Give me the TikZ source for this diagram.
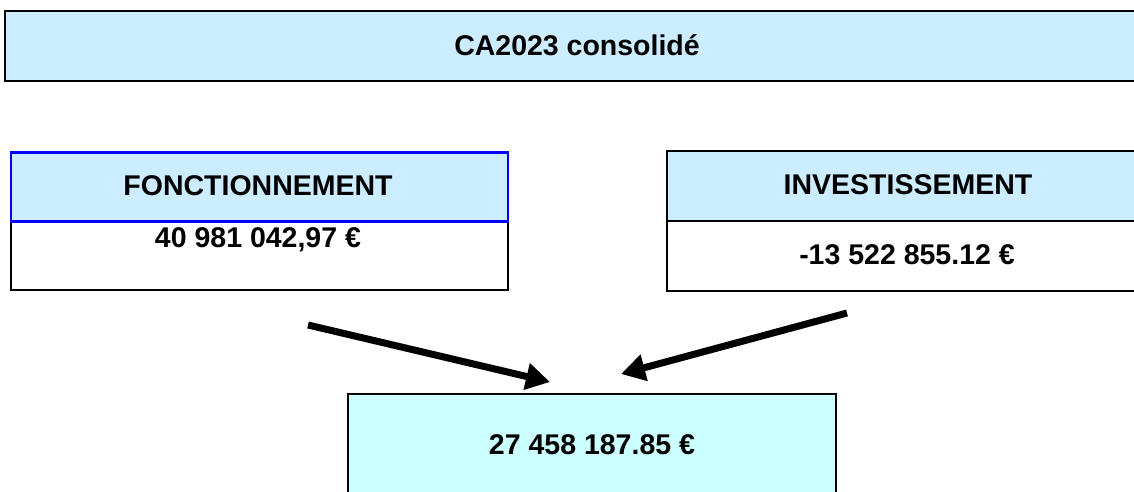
\documentclass[tikz,border=0pt]{standalone}
\usepackage{fontspec}
\setmainfont{Liberation Sans}
\usetikzlibrary{arrows.meta}
\definecolor{hdrblue}{RGB}{204,236,255}
\definecolor{resblue}{RGB}{204,255,255}
\definecolor{pureblue}{RGB}{0,0,255}
\begin{document}
\begin{tikzpicture}[x=1pt,y=-1pt,
  box/.style={draw=black,line width=2.4pt,rectangle,inner sep=0pt,anchor=north west},
  txt/.style={font=\fontsize{28.5}{34}\selectfont\bfseries,inner sep=0pt},
  bigarrow/.style={line width=7pt,-{Triangle[length=24pt,width=26pt]}}
]
\useasboundingbox (0,0) rectangle (1134,492);
\clip (0,0) rectangle (1134,492);
% title
\node[box,fill=hdrblue,minimum width=1146pt,minimum height=70pt] (title) at (4,10) {};
\node[txt] (titletxt) at (577,45) {CA2023 consolidé};
% fonctionnement
\node[box,fill=white,minimum width=497pt,minimum height=69pt] (fval) at (9.5,220) {};
\node[box,draw=pureblue,line width=2.8pt,fill=hdrblue,minimum width=497pt,minimum height=69pt] (fhdr) at (9.5,151) {};
\node[txt] (fhdrtxt) at (258,186) {FONCTIONNEMENT};
\node[txt] (fvaltxt) at (258,240) {40 981 042,97 €};
% investissement
\node[box,fill=hdrblue,minimum width=484pt,minimum height=70pt] (ihdr) at (666,150) {};
\node[box,fill=white,minimum width=484pt,minimum height=70pt] (ival) at (666,220) {};
\node[txt] (ihdrtxt) at (908,185) {INVESTISSEMENT};
\node[txt] (ivaltxt) at (907,255) {-13 522 855.12 €};
% result
\node[box,fill=resblue,minimum width=488pt,minimum height=130pt] (res) at (347,393) {};
\node[txt] (restxt) at (592,445) {27 458 187.85 €};
% arrows
\coordinate (la) at (308,325);
\coordinate (lb) at (550,382);
\coordinate (ra) at (847,313);
\coordinate (rb) at (621,374);
\draw[bigarrow] (la) -- (lb);
\draw[bigarrow] (ra) -- (rb);
\end{tikzpicture}
\end{document}
